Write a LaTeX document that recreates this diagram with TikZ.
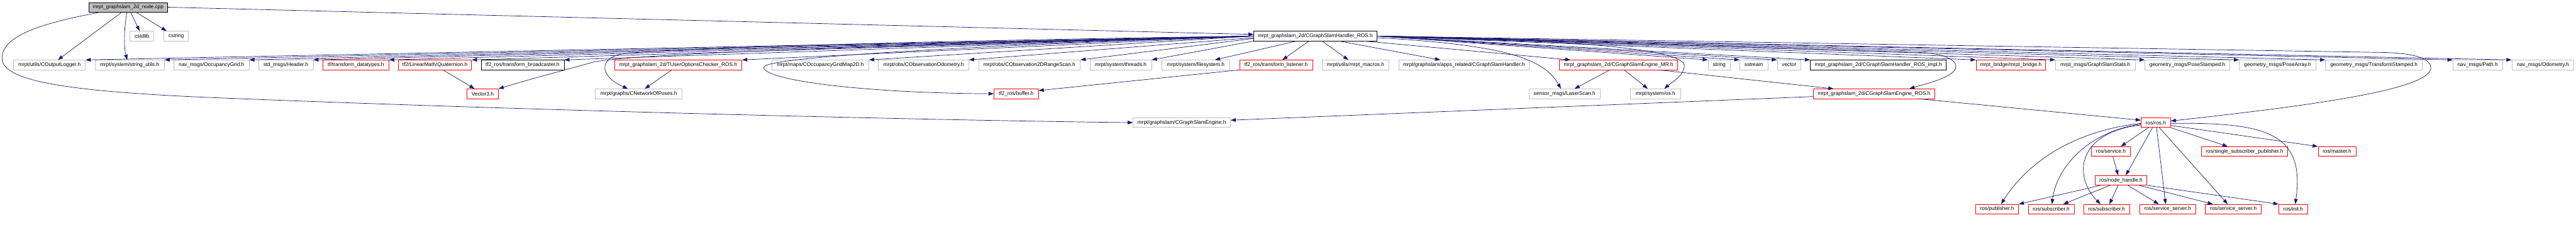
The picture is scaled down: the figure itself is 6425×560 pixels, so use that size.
\documentclass[tikz,border=0pt]{standalone}
\usepackage{fontspec}
\setmainfont{Liberation Sans}
\usetikzlibrary{arrows.meta}

\definecolor{edgeblue}{RGB}{25,25,112}
\definecolor{boxgray}{RGB}{191,191,191}

\begin{document}
\begin{tikzpicture}[x=1pt, y=-1pt,
  incbox/.style={rectangle, draw, line width=1pt, minimum height=24pt, inner xsep=1pt, inner ysep=0pt, font=\fontsize{13}{15}\selectfont},
  gfile/.style={incbox, draw=boxgray},
  rfile/.style={incbox, draw=red},
  bfile/.style={incbox, draw=black},
  cur/.style={incbox, draw=black, fill=boxgray},
  inc/.style={draw=edgeblue, line width=1.1pt, -{Triangle[length=13pt,width=9pt]}}
]
  \useasboundingbox (0,0) rectangle (6425,560);

  % the file itself
  \node[cur, minimum width=196] (root) at (319.6,18) {mrpt\_graphslam\_2d\_node.cpp};

  % first level
  \node[gfile, minimum width=59.6] (cstdlib) at (354.2,90) {cstdlib};
  \node[gfile, minimum width=61.3] (cstring) at (439.5,90) {cstring};
  \node[bfile, minimum width=307] (handler) at (3280.7,90) {mrpt\_graphslam\_2d/CGraphSlamHandler\_ROS.h};

  % second level
  \node[gfile, minimum width=178.7] (logger) at (123.5,162) {mrpt/utils/COutputLogger.h};
  \node[gfile, minimum width=173.2] (strutils) at (323.2,162) {mrpt/system/string\_utils.h};
  \node[gfile, minimum width=187.2] (occgrid) at (527.5,162) {nav\_msgs/OccupancyGrid.h};
  \node[gfile, minimum width=136] (header) at (712.9,162) {std\_msgs/Header.h};
  \node[rfile, minimum width=163.9] (tfdata) at (887.7,162) {tf/transform\_datatypes.h};
  \node[rfile, minimum width=182.7] (quat) at (1084.8,162) {tf2/LinearMath/Quaternion.h};
  \node[bfile, minimum width=207] (tfbcast) at (1303.3,162) {tf2\_ros/transform\_broadcaster.h};
  \node[rfile, minimum width=317.7] (userchk) at (1691.4,162) {mrpt\_graphslam\_2d/TUserOptionsChecker\_ROS.h};
  \node[gfile, minimum width=241.6] (occmap) at (2046.1,162) {mrpt/maps/COccupancyGridMap2D.h};
  \node[gfile, minimum width=225.2] (obsodom) at (2303.6,162) {mrpt/obs/CObservationOdometry.h};
  \node[gfile, minimum width=253.7] (obsscan) at (2567.5,162) {mrpt/obs/CObservation2DRangeScan.h};
  \node[gfile, minimum width=153.3] (threads) at (2795.4,162) {mrpt/system/threads.h};
  \node[gfile, minimum width=170.5] (filesys) at (2982.4,162) {mrpt/system/filesystem.h};
  \node[rfile, minimum width=181.7] (tflisten) at (3182.6,162) {tf2\_ros/transform\_listener.h};
  \node[gfile, minimum width=166.4] (macros) at (3381,162) {mrpt/utils/mrpt\_macros.h};
  \node[gfile, minimum width=325.6] (apphandler) at (3651.4,162) {mrpt/graphslam/apps\_related/CGraphSlamHandler.h};
  \node[rfile, minimum width=294.8] (enginemr) at (4037,162) {mrpt\_graphslam\_2d/CGraphSlamEngine\_MR.h};
  \node[gfile, minimum width=55.3] (string) at (4287.9,162) {string};
  \node[gfile, minimum width=69.9] (sstream) at (4374.2,162) {sstream};
  \node[gfile, minimum width=59.2] (vector) at (4462.2,162) {vector};
  \node[bfile, minimum width=339.1] (handlerimpl) at (4684.8,162) {mrpt\_graphslam\_2d/CGraphSlamHandler\_ROS\_impl.h};
  \node[rfile, minimum width=173.6] (bridge) at (5015.4,162) {mrpt\_bridge/mrpt\_bridge.h};
  \node[gfile, minimum width=198.7] (stats) at (5226.1,162) {mrpt\_msgs/GraphSlamStats.h};
  \node[gfile, minimum width=211.7] (posestamped) at (5455.7,162) {geometry\_msgs/PoseStamped.h};
  \node[gfile, minimum width=191.1] (posearray) at (5680.8,162) {geometry\_msgs/PoseArray.h};
  \node[gfile, minimum width=241.6] (tfstamped) at (5920.9,162) {geometry\_msgs/TransformStamped.h};
  \node[gfile, minimum width=123.6] (path) at (6179.6,162) {nav\_msgs/Path.h};
  \node[gfile, minimum width=154.9] (odom) at (6342.4,162) {nav\_msgs/Odometry.h};

  % third level
  \node[rfile, minimum width=78.5] (vector3) at (1203.7,234) {Vector3.h};
  \node[gfile, minimum width=216.4] (netposes) at (1593.2,234) {mrpt/graphs/CNetworkOfPoses.h};
  \node[rfile, minimum width=110.9] (buffer) at (2534.4,234) {tf2\_ros/buffer.h};
  \node[gfile, minimum width=177.4] (laser) at (3902.2,234) {sensor\_msgs/LaserScan.h};
  \node[gfile, minimum width=124.3] (os) at (4128.9,234) {mrpt/system/os.h};
  \node[rfile, minimum width=302.2] (engineros) at (4674.2,234) {mrpt\_graphslam\_2d/CGraphSlamEngine\_ROS.h};

  % ros part
  \node[gfile, minimum width=242.8] (slamengine) at (2947.6,306) {mrpt/graphslam/CGraphSlamEngine.h};
  \node[rfile, minimum width=73.2] (ros) at (5376.8,306) {ros/ros.h};
  \node[rfile, minimum width=97.1] (service) at (5264.8,378) {ros/service.h};
  \node[rfile, minimum width=214.5] (singlesub) at (5598.2,378) {ros/single\_subscriber\_publisher.h};
  \node[rfile, minimum width=94.7] (master) at (5828.9,378) {ros/master.h};
  \node[rfile, minimum width=128.1] (nodehandle) at (5290,450) {ros/node\_handle.h};
  \node[rfile, minimum width=106.8] (publisher) at (4981,522) {ros/publisher.h};
  \node[rfile, minimum width=114.7] (subscrA) at (5115.9,522) {ros/subscriber.h};
  \node[rfile, minimum width=114.4] (subscrB) at (5254.1,522) {ros/subscriber.h};
  \node[rfile, minimum width=139.3] (srvserverA) at (5406.4,522) {ros/service\_server.h};
  \node[rfile, minimum width=139.5] (srvserverB) at (5570.3,522) {ros/service\_server.h};
  \node[rfile, minimum width=72] (init) at (5719.7,522) {ros/init.h};

  % includes of the file itself
  \draw[inc] ([xshift=-70]root.south) .. controls (120,55) and (5,85) .. (5,145) .. controls (5,200) and (150,228) .. (540,244) .. controls (1300,275) and (2300,300) .. (slamengine.west);
  \draw[inc] ([xshift=-16]root.south) -- ([xshift=21]logger.north);
  \draw[inc] ([xshift=-3]root.south) .. controls (310,65) and (308,115) .. ([xshift=-6]strutils.north);
  \draw[inc] ([xshift=6]root.south) -- ([xshift=-6]cstdlib.north);
  \draw[inc] ([xshift=20]root.south) -- ([xshift=-24]cstring.north);
  \draw[inc] (root.east) -- ([yshift=4]handler.west);

  % handler, to the left
  \draw[inc] (handler.west) -- (logger.north east);
  \draw[inc] (handler.west) -- (strutils.north east);
  \draw[inc] (handler.west) -- (occgrid.north east);
  \draw[inc] (handler.west) -- (header.north east);
  \draw[inc] (handler.west) -- (tfdata.north east);
  \draw[inc] (handler.west) -- (quat.north east);
  \draw[inc] (handler.west) -- (tfbcast.north east);
  \draw[inc] (handler.west) -- (userchk.north east);
  \draw[inc] (handler.west) -- (occmap.north east);
  \draw[inc] ([yshift=-4]handler.west) -- (obsodom.north east);
  \draw[inc] ([yshift=-6]handler.west) -- (obsscan.north east);
  \draw[inc] (handler.south west) -- (threads.north east);
  \draw[inc] ([xshift=107]handler.south west) -- ([xshift=-38]filesys.north east);
  \draw[inc] ([xshift=138]handler.south west) -- ([xshift=16]tflisten.north);
  \draw[inc] (handler.west) .. controls (2400,110) and (1600,130) .. (1480,155) .. controls (1420,172) and (1330,195) .. (vector3.north east);
  \draw[inc] (handler.west) .. controls (2400,100) and (1620,120) .. (1545,136) .. controls (1495,148) and (1495,190) .. ([xshift=-27]netposes.north);
  \draw[inc] (handler.west) .. controls (2500,112) and (1905,140) .. (1905,168) .. controls (1905,200) and (2150,232) .. (buffer.west);

  % handler, to the right
  \draw[inc] ([xshift=171]handler.south west) -- ([xshift=-18]macros.north);
  \draw[inc] ([xshift=-95]handler.south east) -- ([xshift=-59]apphandler.north);
  \draw[inc] ([xshift=-33]handler.south east) -- ([xshift=28]enginemr.north west);
  \draw[inc] ([yshift=-4]handler.east) .. controls (3750,112) and (3850,145) .. ([xshift=-9]laser.north);
  \draw[inc] (handler.east) .. controls (3950,98) and (4205,125) .. (4201,165) .. controls (4199,190) and (4170,205) .. ([xshift=22]os.north);
  \draw[inc] (handler.east) -- (string.north west);
  \draw[inc] (handler.east) -- (sstream.north west);
  \draw[inc] (handler.east) -- (vector.north west);
  \draw[inc] (handler.east) -- (handlerimpl.north west);
  \draw[inc] (handler.east) -- (4790,131) .. controls (4860,134) and (4885,155) .. (4877,172) .. controls (4866,195) and (4800,210) .. ([xshift=88]engineros.north);
  \draw[inc] (handler.east) -- (bridge.north west);
  \draw[inc] (handler.east) -- (stats.north west);
  \draw[inc] (handler.east) -- (posestamped.north west);
  \draw[inc] (handler.east) -- (posearray.north west);
  \draw[inc] (handler.east) -- (tfstamped.north west);
  \draw[inc] (handler.east) -- (path.north west);
  \draw[inc] (handler.east) -- (odom.north west);
  \draw[inc] (handler.east) -- (5950,131) .. controls (6035,134) and (6063,150) .. (6063,170) .. controls (6060,225) and (5750,265) .. ([yshift=4]ros.east);

  % second level includes
  \draw[inc] ([xshift=20]quat.south) -- ([xshift=-20]vector3.north);
  \draw[inc] ([xshift=-16]userchk.south) -- ([xshift=15]netposes.north);
  \draw[inc] (tflisten.south west) -- ([yshift=8]buffer.east);
  \draw[inc] ([xshift=-22]enginemr.south) -- ([xshift=25]laser.north);
  \draw[inc] ([xshift=14]enginemr.south) -- ([xshift=-19]os.north);
  \draw[inc] ([xshift=100]enginemr.south) -- ([xshift=-101]engineros.north);
  \draw[inc] ([yshift=-7]engineros.west) -- ([yshift=6]slamengine.east);
  \draw[inc] ([xshift=110]engineros.south) -- ([yshift=6]ros.west);

  % ros headers
  \draw[inc] ([yshift=-2]ros.west) .. controls (5180,325) and (5060,400) .. ([xshift=10]publisher.north);
  \draw[inc] ([yshift=-4]ros.west) .. controls (5220,325) and (5130,410) .. ([xshift=2]subscrA.north);
  \draw[inc] ([yshift=-6]ros.west) .. controls (5180,330) and (5170,440) .. ([xshift=-15]subscrB.north);
  \draw[inc] ([xshift=-18]ros.south) -- ([xshift=25]service.north);
  \draw[inc] ([xshift=-8]ros.south) -- ([xshift=12]nodehandle.north);
  \draw[inc] ([xshift=2]ros.south) -- ([xshift=-5]srvserverA.north);
  \draw[inc] ([xshift=9]ros.south) -- ([xshift=-14]srvserverB.north);
  \draw[inc] (ros.south east) -- ([xshift=-42]singlesub.north);
  \draw[inc] ([yshift=-7]ros.east) -- (master.north west);
  \draw[inc] ([yshift=-2]ros.east) .. controls (5650,305) and (5750,330) .. ([xshift=5]init.north);
  \draw[inc] ([xshift=5]service.south) -- ([xshift=-7]nodehandle.north);
  \draw[inc] ([xshift=-50]nodehandle.south) -- (publisher.north east);
  \draw[inc] ([xshift=-27]nodehandle.south) -- ([xshift=30]subscrA.north);
  \draw[inc] ([xshift=-7]nodehandle.south) -- ([xshift=7]subscrB.north);
  \draw[inc] ([xshift=17]nodehandle.south) -- ([xshift=-22]srvserverA.north);
  \draw[inc] ([xshift=45]nodehandle.south) -- ([xshift=-51]srvserverB.north);
  \draw[inc] (nodehandle.south east) -- (init.north west);
\end{tikzpicture}
\end{document}
